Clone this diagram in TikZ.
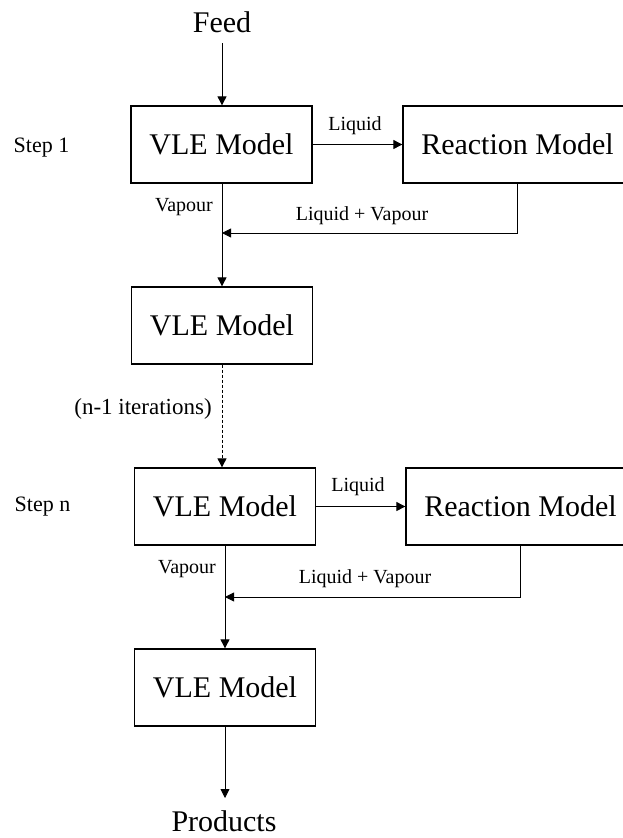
\documentclass[tikz,border=0pt]{standalone}
\usepackage{fontspec}
\setmainfont{Liberation Serif}
\usetikzlibrary{arrows.meta}
\begin{document}
\begin{tikzpicture}[x=1pt,y=-1pt,
  box/.style={draw,line width=1.3pt,inner sep=0pt,minimum height=77pt,font=\fontsize{30}{34}\selectfont},
  vle/.style={box,minimum width=181pt},
  rxn/.style={box,minimum width=229pt},
  big/.style={font=\fontsize{30}{34}\selectfont,anchor=base,inner sep=0pt},
  lab/.style={font=\fontsize{20}{24}\selectfont,anchor=base,inner sep=0pt},
  steplab/.style={font=\fontsize{22}{26}\selectfont,anchor=base,inner sep=0pt},
  flow/.style={line width=0.9pt,-{Triangle[length=9pt,width=9pt]}}
]
\useasboundingbox (0,0) rectangle (623,838);
\clip (0,0) rectangle (623,838);
% nodes
\node[big] (feed) at (222,32) {Feed};
\node[vle] (v1) at (221.5,144.5) {VLE Model};
\node[rxn] (r1) at (517.5,144.5) {Reaction Model};
\node[vle] (v2) at (222,325.5) {VLE Model};
\node[vle] (v3) at (225,506.5) {VLE Model};
\node[rxn] (r2) at (520.5,506.5) {Reaction Model};
\node[vle] (v4) at (225,687.5) {VLE Model};
\node[big] (prod) at (224,831) {Products};
% labels
\node[steplab] (s1) at (41.5,152) {Step 1};
\node[steplab] (sn) at (42.5,511) {Step n};
\node[lab] (liq1) at (355,130) {Liquid};
\node[lab] (lv1) at (362,220) {Liquid + Vapour};
\node[lab] (vap1) at (184,211) {Vapour};
\node[lab] (liq2) at (358,491) {Liquid};
\node[lab] (lv2) at (365,583) {Liquid + Vapour};
\node[lab] (vap2) at (187,573) {Vapour};
\node[font=\fontsize{23}{27}\selectfont,anchor=base,inner sep=0pt] (iter) at (143,414) {(n-1 iterations)};
% junctions
\coordinate (j1) at (222,233);
\coordinate (j2) at (225,597);
\coordinate (f0) at (222,43);
\coordinate (p0) at (225,798);
% connectors
\draw[flow] (f0) -- (v1.north -| f0);
\draw[flow] (v1.east) -- (r1.west);
\draw[line width=0.9pt] (v1.south -| j1) -- (j1);
\draw[flow] (r1.south) |- (j1);
\draw[flow] (j1) -- (v2.north -| j1);
\draw[flow,dashed,dash pattern=on 3pt off 2pt] (v2.south) -- (v2.south |- v3.north);
\draw[flow] (v3.east) -- (r2.west);
\draw[line width=0.9pt] (v3.south -| j2) -- (j2);
\draw[flow] (r2.south) |- (j2);
\draw[flow] (j2) -- (v4.north -| j2);
\draw[flow] (v4.south -| p0) -- (p0);
\end{tikzpicture}
\end{document}
